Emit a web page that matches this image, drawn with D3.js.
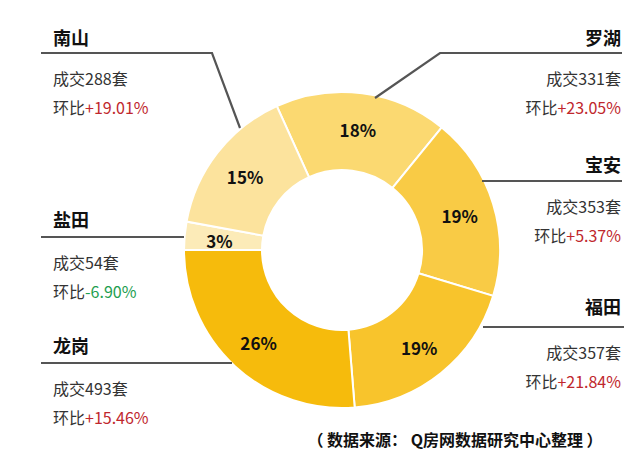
<!DOCTYPE html>
<html><head><meta charset="utf-8">
<script src="https://cdn.jsdelivr.net/npm/d3@7"></script>
<style>body{margin:0;background:#fff}svg{font-family:"Microsoft YaHei","Noto Sans CJK SC",sans-serif}</style>
</head><body><svg id="c" width="640" height="457"></svg>
<script>
const districts = ["罗湖","宝安","福田","龙岗","盐田","南山"];
const deals = [331,353,357,493,54,288];
const pctLabels = ["18%","19%","19%","26%","3%","15%"];
const changes = ["+23.05%","+5.37%","+21.84%","+15.46%","-6.90%","+19.01%"];
const colors = ["#FBD971","#F9CB45","#F8C42C","#F6BB0C","#FCEBB8","#FCE39D"];

const svg = d3.select("#c");
const cx = 342, cy = 250, R = 158, r = 80;
const total = d3.sum(deals);
const before = d3.sum(deals.slice(0,4));
const start = 1.5*Math.PI - before/total*2*Math.PI;
const pie = d3.pie().sort(null).startAngle(start).endAngle(start+2*Math.PI);
const arcs = pie(deals);
const arc = d3.arc().innerRadius(r).outerRadius(R);
const g = svg.append("g").attr("transform",`translate(${cx},${cy})`);
g.selectAll("path").data(arcs).join("path").attr("d",arc)
  .attr("fill",(d,i)=>colors[i]).attr("stroke","#fff").attr("stroke-width",2);
const lab = d3.arc().innerRadius((r+R)/2+4).outerRadius((r+R)/2+4);
g.selectAll("text").data(arcs).join("text")
  .attr("transform",d=>`translate(${lab.centroid(d)})`)
  .attr("text-anchor","middle").attr("dy","0.55em")
  .attr("font-size",17).attr("font-weight","bold").attr("fill","#111")
  .text((d,i)=>pctLabels[i]);

const layout = [
 {side:"R", ty:45, ly:53, x1:440, x2:622, lead:[375,98]},
 {side:"R", ty:172, ly:181, x1:482, x2:622, lead:null},
 {side:"R", ty:314, ly:327, x1:483, x2:624, lead:null},
 {side:"L", ty:353, ly:363, x1:41, x2:232, lead:null},
 {side:"L", ty:227, ly:237, x1:41, x2:184, lead:null},
 {side:"L", ty:45, ly:53, x1:41, x2:212, lead:[240,128]},
];
layout.forEach((L,i)=>{
  const tx = L.side==="R" ? 621 : 53, anchor = L.side==="R" ? "end":"start";
  svg.append("text").attr("x",tx).attr("y",L.ty).attr("text-anchor",anchor)
    .attr("font-size",18).attr("font-weight","bold").attr("fill","#111").text(districts[i]);
  let pts = L.side==="R" ? [[L.x2,L.ly],[L.x1,L.ly]] : [[L.x1,L.ly],[L.x2,L.ly]];
  if(L.lead) pts.push(L.lead);
  svg.append("path").attr("d",d3.line()(pts)).attr("fill","none").attr("stroke","#555").attr("stroke-width",2.2);
  svg.append("text").attr("x",tx).attr("y",L.ly+32).attr("text-anchor",anchor)
    .attr("font-size",16).attr("fill","#333").text(`成交${deals[i]}套`);
  const t = svg.append("text").attr("x",tx).attr("y",L.ly+61).attr("text-anchor",anchor).attr("font-size",16);
  t.append("tspan").attr("fill","#333").text("环比");
  t.append("tspan").attr("fill",changes[i][0]==="-"?"#1E9E50":"#C0272D").text(changes[i]);
});
svg.append("text").attr("x",455).attr("y",446).attr("text-anchor","middle")
  .attr("font-size",16).attr("font-weight","bold").attr("fill","#111")
  .text("（ 数据来源： Q房网数据研究中心整理 ）");
</script></body></html>
